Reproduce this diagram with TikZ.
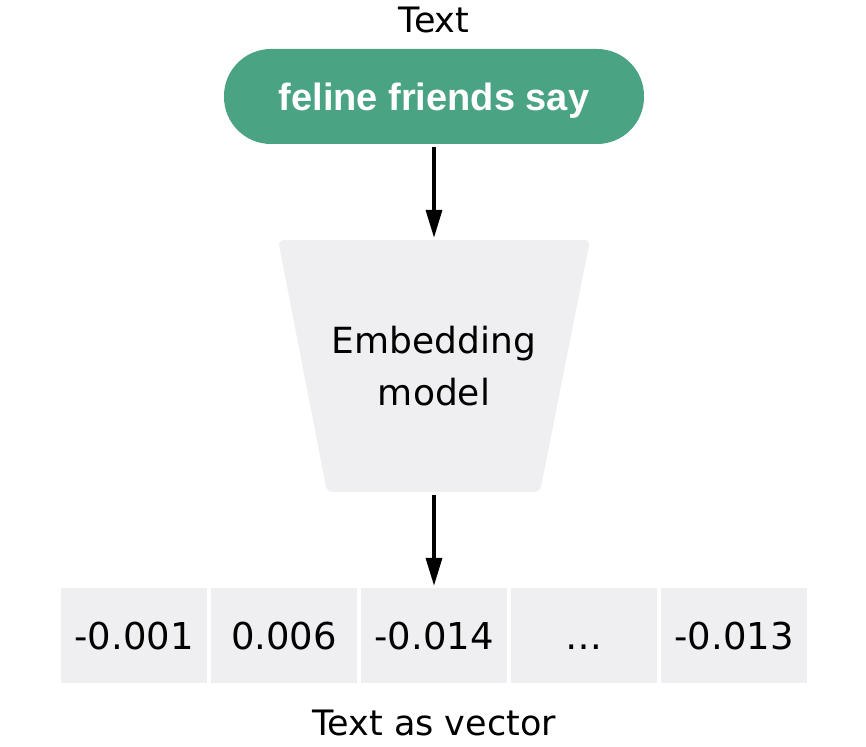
\documentclass[tikz,border=0pt]{standalone}
\usepackage{fontspec}
\setmainfont{DejaVu Sans}
\newfontfamily\pillfont{Liberation Sans}
\usetikzlibrary{arrows.meta}

\definecolor{pillgreen}{RGB}{74,163,130}
\definecolor{cellgrey}{RGB}{239,239,241}

\tikzset{
  caption/.style={font=\fontsize{35}{52}\selectfont, anchor=base, inner sep=0pt},
  pill/.style={fill=pillgreen, text=white, rounded corners=47pt, minimum width=420pt,
    minimum height=95pt, inner sep=0pt, text height=28pt, text depth=0pt,
    font=\fontsize{38}{46}\selectfont\pillfont\bfseries},
  cell/.style={fill=cellgrey, minimum width=146pt, minimum height=95pt, inner sep=0pt,
    text height=27pt, text depth=0pt, font=\fontsize{37}{46}\selectfont},
  flow/.style={line width=3.5pt, -{Triangle[length=28pt,width=16pt]},
    shorten <=3pt, shorten >=2pt}
}

\begin{document}
\begin{tikzpicture}[x=1pt, y=-1pt]
\useasboundingbox (0,0) rectangle (866,746);

\node[caption] (title) at (434,33) {Text};
\node[pill] (input) at (434,96.5) {feline friends say};

% embedding model
\fill[cellgrey, rounded corners=6pt] (278,240) -- (590,240) -- (540,492) -- (327,492) -- cycle;
\node[minimum width=312pt, minimum height=252pt, inner sep=0pt, align=center,
  font=\fontsize{36}{52}\selectfont] (model) at (434,366) {Embedding\\model};

\foreach \v [count=\i] in {-0.001, 0.006, -0.014, \dots, -0.013}
  \node[cell] (c\i) at (-16+150*\i,635.5) {\v};

\node[caption] (out) at (434,735) {Text as vector};

\draw[flow] (input.south) -- (model.north);
\draw[flow] (model.south) -- (c3.north);
\end{tikzpicture}
\end{document}
